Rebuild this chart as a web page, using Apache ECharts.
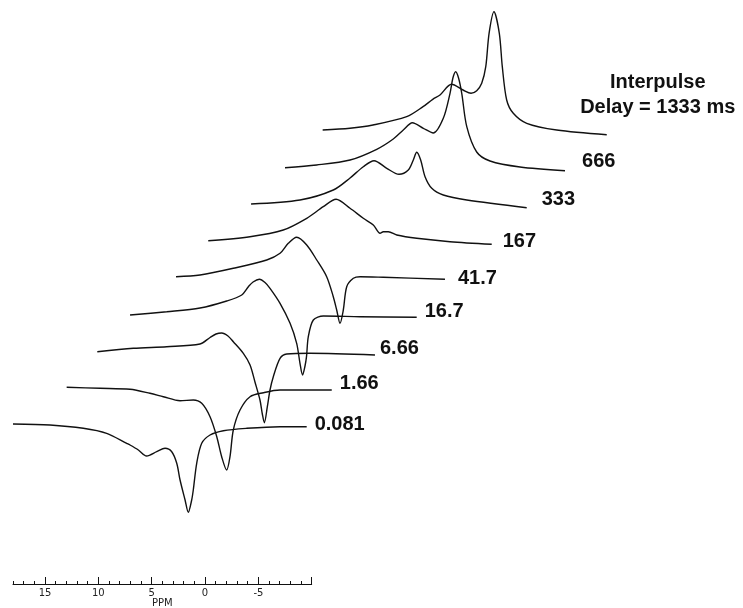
<!DOCTYPE html>
<html>
<head>
<meta charset="utf-8">
<script src="https://cdn.jsdelivr.net/npm/echarts@6/dist/echarts.min.js"></script>
<style>html,body{margin:0;padding:0;background:#fff}#c{width:743px;height:608px}</style>
</head>
<body>
<div id="c"></div>
<script>
// ---- data: [ppm, intensity] ----
const delays = ['0.081', '1.66', '6.66', '16.7', '41.7', '167', '333', '666', '1333'];
const ppmTickValues = [-10, -5, 0, 5, 10, 15];
const ppmTickLabels = [-5, 0, 5, 10, 15];

const trace0081 = [[18.0,2.7],[14.53,1.7],[11.41,-1.6],[9.22,-6.6],[7.34,-16.6],[7.03,-18.3],[6.25,-23.3],[5.47,-29.3],[4.53,-25],[3.75,-21.6],[3.12,-25],[2.65,-36.6],[2.34,-53.3],[1.87,-73.3],[1.57,-85.6],[1.25,-73.3],[1.10,-63.3],[0.78,-36.6],[0.31,-16.6],[-0.47,-8.3],[-1.72,-4],[-3.91,-1.6],[-7.03,0],[-9.53,0]];
const trace166 = [[16.55,2.9],[13.42,1.9],[10.61,0.9],[8.74,-3.1],[7.49,-6.5],[5.92,-10.5],[4.68,-9.8],[3.89,-13.1],[3.11,-26.5],[2.48,-46.5],[2.02,-66.5],[1.55,-79.8],[1.24,-66.5],[0.93,-39.8],[0.30,-19.8],[-0.64,-6.5],[-1.88,-2.5],[-3.45,0.2],[-8.30,0.2]];
const trace666ms = [[17.26,2],[13.88,5.4],[10.75,7],[7.63,9.7],[6.69,16.2],[6.13,19.7],[5.60,20.7],[5.01,17.7],[4.51,12],[3.57,0.4],[2.94,-11.3],[2.48,-28.3],[2.01,-46.3],[1.79,-60.3],[1.60,-69],[1.32,-53],[1.07,-36.3],[0.76,-23],[0.13,-4.6],[-0.50,-0.3],[-2.68,0.4],[-8.77,-1.3]];
const trace167 = [[17.77,2.2],[14.33,5.5],[11.21,9.2],[8.71,16.2],[7.30,22.2],[6.68,30.5],[6.24,35.2],[5.65,37.9],[5.12,34.7],[4.65,28.9],[3.71,13.9],[2.77,-6.1],[2.15,-26.1],[1.84,-46.1],[1.60,-57.8],[1.37,-48.8],[1.23,-39.5],[1.06,-19.5],[0.59,-2.8],[-0.35,1.2],[-3.79,0.5],[-9.10,-0.1]];
const trace417 = [[17.04,4],[14.79,5.7],[11.67,12.4],[8.54,20.7],[7.29,27.4],[6.52,37.4],[5.73,43.4],[4.79,35.7],[3.85,20.7],[2.92,4],[2.30,-16],[1.98,-29.3],[1.67,-42.6],[1.36,-29.3],[1.04,-6],[0.42,2.4],[-0.21,4],[-2.39,3.4],[-8.17,1.4]];
const trace167ms = [[17.60,3.5],[13.69,7.5],[10.57,14.2],[8.37,25.9],[6.82,37.5],[5.62,44.9],[4.31,35.9],[3.07,25.9],[2.13,19.2],[1.50,10.9],[1.19,12.5],[0.72,12.5],[-0.07,9.2],[-1.94,5.9],[-5.06,2.5],[-8.97,-0.1]];
const trace333 = [[17.17,3.7],[12.58,7.7],[9.46,17.7],[7.89,29.7],[6.65,41],[5.64,47],[4.45,39.4],[3.30,33.4],[2.43,37.7],[1.96,47.7],[1.64,55.4],[1.27,47.7],[0.86,31],[0.23,19.4],[-0.85,12.7],[-3.05,7.7],[-8.67,0]];
const trace666 = [[17.57,3.5],[14.60,6.2],[11.47,11.2],[8.97,21.9],[7.42,32.2],[6.48,41.2],[5.63,48.5],[4.60,42.9],[3.67,38.2],[2.73,52.9],[2.10,77.9],[1.83,93.2],[1.57,99.5],[1.30,93.2],[1.00,77.9],[0.53,44.5],[-0.40,19.2],[-1.65,10.2],[-4.46,4.2],[-8.68,0.5]];
const trace1333 = [[17.62,4.7],[15.06,6.4],[12.90,9.7],[9.74,18],[8.21,28],[7.30,35.4],[6.62,39.7],[5.54,50.4],[4.46,44.7],[3.71,41.4],[3.18,44],[2.71,51.4],[2.33,68],[2.02,101.4],[1.56,123],[1.06,101.4],[0.78,68],[0.37,34.7],[-0.25,21.4],[-1.51,11.4],[-4.32,4.7],[-9.01,0]];

const traces = [trace0081, trace166, trace666ms, trace167, trace417, trace167ms, trace333, trace666, trace1333];

// ---- layout (pixels) ----
const L = {
  x0: 13, width: 298.7, dx: 38.2,
  base0: 426.7, dy: 36.5,
  yMax: 130, yMin: -100
};
const labelOffsets = [[8,-2],[8,-7],[5,-7],[8,-6],[13,-1],[11,-3],[15,-8],[17,-9],[51,-40]];

const grids = [], xAxes = [], yAxes = [], series = [];
traces.forEach((tr, i) => {
  const base = L.base0 - L.dy * i;
  grids.push({ left: L.x0 + L.dx * i, width: L.width, top: base - L.yMax, height: L.yMax - L.yMin, outerBoundsMode: 'none', containLabel: false });
  xAxes.push({ gridIndex: i, type: 'value', min: -10, max: 18, inverse: true, show: false });
  yAxes.push({ gridIndex: i, type: 'value', min: L.yMin, max: L.yMax, show: false });
  const last = i === traces.length - 1;
  series.push({
    type: 'line', name: last ? 'Interpulse\nDelay = 1333 ms' : delays[i],
    xAxisIndex: i, yAxisIndex: i, data: tr,
    showSymbol: false, smooth: 0.3, silent: true,
    lineStyle: { color: '#111', width: 1.4 },
    endLabel: {
      show: true, formatter: '{a}', distance: 0,
      align: last ? 'center' : 'left', verticalAlign: 'middle',
      offset: labelOffsets[i],
      fontFamily: 'Liberation Sans, Arial, sans-serif', fontWeight: 'bold',
      fontSize: 20, lineHeight: 25, color: '#111'
    }
  });
});

// ppm scale grid
const gi = traces.length;
grids.push({ left: L.x0, width: L.width, top: 500, height: 84, outerBoundsMode: 'none', containLabel: false });
xAxes.push({
  gridIndex: gi, type: 'value', position: 'bottom', min: -10, max: 18, inverse: true, interval: 5,
  name: 'PPM', nameLocation: 'middle', nameGap: 14,
  nameTextStyle: { fontFamily: 'DejaVu Sans', fontSize: 10, color: '#222' },
  axisLine: { lineStyle: { color: '#111', width: 1 } },
  axisTick: { inside: true, length: 7, customValues: ppmTickValues, lineStyle: { color: '#111' } },
  axisLabel: { customValues: ppmTickLabels, margin: 4, fontFamily: 'DejaVu Sans', fontSize: 10, color: '#222' },
  splitLine: { show: false }
});
xAxes.push({
  gridIndex: gi, type: 'value', position: 'bottom', min: -10, max: 18, inverse: true, interval: 1,
  axisLine: { show: false },
  axisTick: { inside: true, length: 3, lineStyle: { color: '#111' } },
  axisLabel: { show: false }, splitLine: { show: false }
});
yAxes.push({ gridIndex: gi, type: 'value', show: false });

const chart = echarts.init(document.getElementById('c'), null, { renderer: 'canvas' });
chart.setOption({
  animation: false,
  backgroundColor: '#fff',
  grid: grids, xAxis: xAxes, yAxis: yAxes, series: series
});
</script>
</body>
</html>
